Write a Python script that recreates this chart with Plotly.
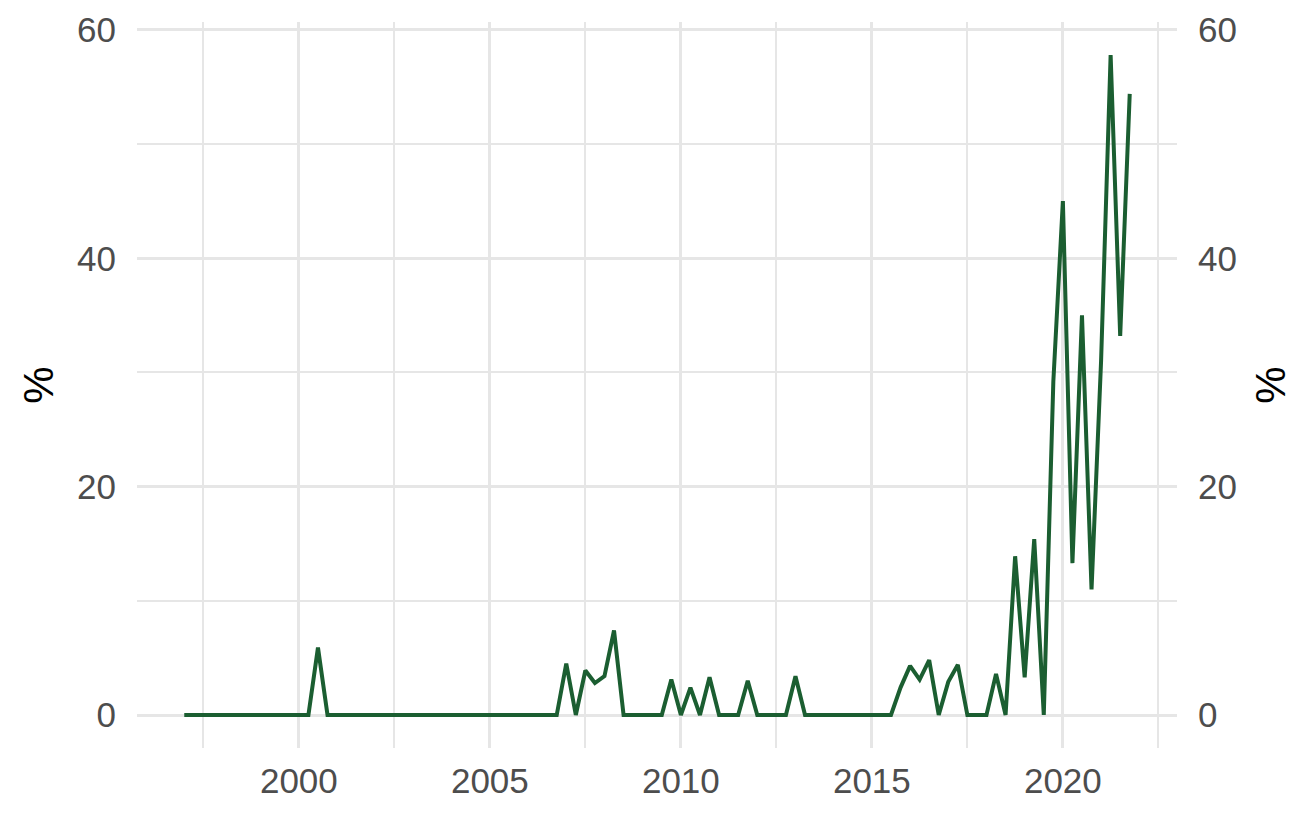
import plotly.graph_objects as go

# Quarterly series, 1997 Q1 .. 2021 Q4 (values in %)
start_year = 1997
values = [
    # 1997
    0, 0, 0, 0,
    # 1998
    0, 0, 0, 0,
    # 1999
    0, 0, 0, 0,
    # 2000
    0, 0, 5.9, 0,
    # 2001
    0, 0, 0, 0,
    # 2002
    0, 0, 0, 0,
    # 2003
    0, 0, 0, 0,
    # 2004
    0, 0, 0, 0,
    # 2005
    0, 0, 0, 0,
    # 2006
    0, 0, 0, 0,
    # 2007
    4.5, 0, 3.9, 2.8,
    # 2008
    3.4, 7.4, 0, 0,
    # 2009
    0, 0, 0, 3.1,
    # 2010
    0, 2.4, 0, 3.3,
    # 2011
    0, 0, 0, 3.0,
    # 2012
    0, 0, 0, 0,
    # 2013
    3.4, 0, 0, 0,
    # 2014
    0, 0, 0, 0,
    # 2015
    0, 0, 0, 2.4,
    # 2016
    4.3, 3.1, 4.8, 0,
    # 2017
    2.9, 4.4, 0, 0,
    # 2018
    0, 3.6, 0, 13.9,
    # 2019
    3.3, 15.4, 0, 29.2,
    # 2020
    45.0, 13.3, 35.0, 11.0,
    # 2021
    31.0, 57.8, 33.2, 54.4,
]
dates = [start_year + i * 0.25 for i in range(len(values))]

x_major = [2000, 2005, 2010, 2015, 2020]
x_minor = [1997.5, 2002.5, 2007.5, 2012.5, 2017.5, 2022.5]
y_major = [0, 20, 40, 60]
y_minor = [10, 30, 50]
y_title = "%"

line_color = "#1B5E31"
grid_color = "#E6E6E6"
tick_color = "#4D4D4D"
font_family = "Liberation Sans, Arial, Helvetica, sans-serif"

xmin, xmax = min(dates), max(dates)
xpad = (xmax - xmin) * 0.05
ymin, ymax = min(values), max(values)
ypad = (ymax - ymin) * 0.05
xr = [xmin - xpad, xmax + xpad]
yr = [ymin - ypad, ymax + ypad]

fig = go.Figure()
fig.add_trace(go.Scatter(
    x=dates, y=values, mode="lines",
    line=dict(color=line_color, width=4),
    showlegend=False, hoverinfo="x+y",
))
# invisible copy to anchor the right-hand axis
fig.add_trace(go.Scatter(
    x=dates, y=values, mode="lines", yaxis="y2",
    line=dict(color="rgba(0,0,0,0)", width=0),
    showlegend=False, hoverinfo="skip",
))


def yaxis_style(side, standoff):
    return dict(
        range=yr, side=side,
        tickmode="array", tickvals=y_major, ticktext=[str(v) for v in y_major],
        showgrid=True, gridcolor=grid_color, gridwidth=2.8,
        minor=dict(tickmode="array", tickvals=y_minor, showgrid=True,
                   gridcolor=grid_color, gridwidth=1.5, ticks=""),
        zeroline=False, showline=False, ticks="",
        tickfont=dict(size=35, color=tick_color, family=font_family),
        title=dict(text=y_title, font=dict(size=42, color="black", family=font_family),
                   standoff=standoff),
        ticklabelstandoff=20,
        automargin=False,
    )


fig.update_layout(
    width=1307, height=818,
    paper_bgcolor="white", plot_bgcolor="white",
    margin=dict(l=129, r=138, t=14, b=78),
    font=dict(family=font_family),
    xaxis=dict(
        range=xr,
        tickmode="array", tickvals=x_major, ticktext=[str(v) for v in x_major],
        showgrid=True, gridcolor=grid_color, gridwidth=2.8,
        minor=dict(tickmode="array", tickvals=x_minor, showgrid=True,
                   gridcolor=grid_color, gridwidth=1.5, ticks=""),
        zeroline=False, showline=False, ticks="",
        tickfont=dict(size=35, color=tick_color, family=font_family),
        ticklabelstandoff=9,
        automargin=False,
    ),
    yaxis=yaxis_style("left", 10),
    yaxis2=dict(**yaxis_style("right", 19), overlaying="y"),
)
fig.update_layout(yaxis2=dict(showgrid=False, minor=dict(showgrid=False)))

fig.write_html("out.html")
